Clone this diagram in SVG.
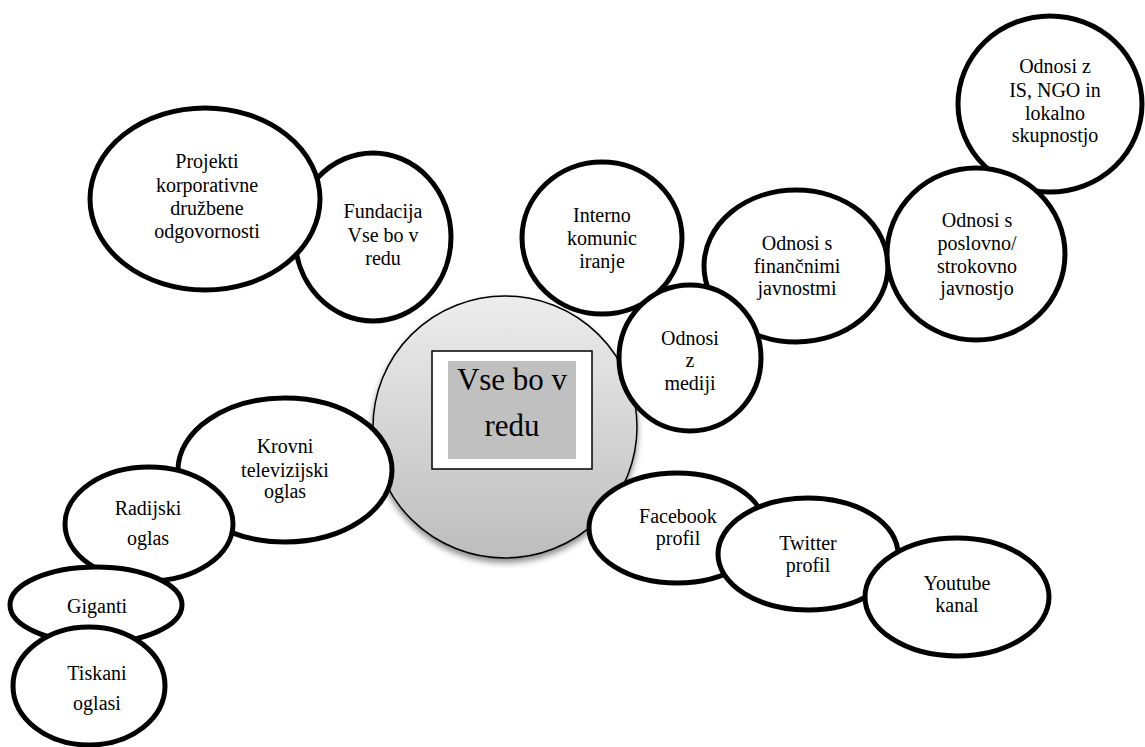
<svg xmlns="http://www.w3.org/2000/svg" width="1145" height="747" viewBox="0 0 1145 747">
  <defs>
    <linearGradient id="hubFill" x1="0" y1="0" x2="0" y2="1">
      <stop offset="0" stop-color="#ededed"/>
      <stop offset="1" stop-color="#bdbdbd"/>
    </linearGradient>
    <filter id="hubShadow" x="-10%" y="-10%" width="120%" height="125%">
      <feDropShadow dx="0" dy="4" stdDeviation="3" flood-color="#000" flood-opacity="0.45"/>
    </filter>
  </defs>
  <style>
    .bubble { fill: #ffffff; stroke: #000000; stroke-width: 5; }
    .lbl { font-family: "Liberation Serif", "Times New Roman", serif; font-size: 20px; fill: #000000; text-anchor: middle; }
    .hubLbl { font-family: "Liberation Serif", "Times New Roman", serif; font-size: 31px; fill: #000000; text-anchor: middle; }
  </style>
  <rect x="0" y="0" width="1145" height="747" fill="#ffffff"/>

  <!-- central hub -->
  <g id="hub">
    <ellipse cx="505" cy="427" rx="132" ry="131" fill="url(#hubFill)" stroke="#000" stroke-width="1.5" filter="url(#hubShadow)"/>
    <rect x="432" y="351" width="160" height="118" fill="#ffffff" stroke="#000" stroke-width="1.5"/>
    <rect x="448" y="361" width="128" height="98" fill="#c0c0c0"/>
    <text class="hubLbl" x="512" y="390">Vse bo v</text>
    <text class="hubLbl" x="512" y="436">redu</text>
  </g>

  <!-- upper-left branch -->
  <g id="fundacija">
    <ellipse class="bubble" cx="373" cy="237" rx="78" ry="84"/>
    <text class="lbl" x="383" y="218">Fundacija</text>
    <text class="lbl" x="383" y="242">Vse bo v</text>
    <text class="lbl" x="383" y="265">redu</text>
  </g>
  <g id="projekti">
    <ellipse class="bubble" cx="205" cy="199" rx="115" ry="91"/>
    <text class="lbl" x="207" y="168">Projekti</text>
    <text class="lbl" x="207" y="192">korporativne</text>
    <text class="lbl" x="207" y="215">družbene</text>
    <text class="lbl" x="207" y="238">odgovornosti</text>
  </g>

  <!-- upper-right branch -->
  <g id="interno">
    <ellipse class="bubble" cx="602" cy="238" rx="80" ry="76"/>
    <text class="lbl" x="602" y="222">Interno</text>
    <text class="lbl" x="602" y="245">komunic</text>
    <text class="lbl" x="602" y="268">iranje</text>
  </g>
  <g id="is-ngo">
    <ellipse class="bubble" cx="1050" cy="104" rx="92" ry="88"/>
    <text class="lbl" x="1055" y="73">Odnosi z</text>
    <text class="lbl" x="1055" y="97">IS, NGO in</text>
    <text class="lbl" x="1055" y="120">lokalno</text>
    <text class="lbl" x="1055" y="142">skupnostjo</text>
  </g>
  <g id="financne">
    <ellipse class="bubble" cx="796" cy="266" rx="92" ry="76"/>
    <text class="lbl" x="797" y="250">Odnosi s</text>
    <text class="lbl" x="797" y="273">finančnimi</text>
    <text class="lbl" x="797" y="295">javnostmi</text>
  </g>
  <g id="poslovna">
    <ellipse class="bubble" cx="976" cy="254" rx="89" ry="86"/>
    <text class="lbl" x="977" y="227">Odnosi s</text>
    <text class="lbl" x="977" y="250">poslovno/</text>
    <text class="lbl" x="977" y="273">strokovno</text>
    <text class="lbl" x="977" y="295">javnostjo</text>
  </g>
  <g id="mediji">
    <ellipse class="bubble" cx="690" cy="358" rx="71" ry="73"/>
    <text class="lbl" x="690" y="345">Odnosi</text>
    <text class="lbl" x="690" y="367">z</text>
    <text class="lbl" x="690" y="390">mediji</text>
  </g>

  <!-- lower-left branch -->
  <g id="krovni">
    <ellipse class="bubble" cx="285" cy="470" rx="107" ry="72"/>
    <text class="lbl" x="285" y="453">Krovni</text>
    <text class="lbl" x="285" y="477">televizijski</text>
    <text class="lbl" x="285" y="498">oglas</text>
  </g>
  <g id="radijski">
    <ellipse class="bubble" cx="149" cy="524" rx="84" ry="57"/>
    <text class="lbl" x="148" y="515">Radijski</text>
    <text class="lbl" x="148" y="545">oglas</text>
  </g>
  <g id="giganti">
    <ellipse class="bubble" cx="96" cy="605" rx="86" ry="38"/>
    <text class="lbl" x="97" y="613">Giganti</text>
  </g>
  <g id="tiskani">
    <ellipse class="bubble" cx="89" cy="686" rx="76" ry="59"/>
    <text class="lbl" x="97" y="680">Tiskani</text>
    <text class="lbl" x="97" y="710">oglasi</text>
  </g>

  <!-- lower-right branch -->
  <g id="facebook">
    <ellipse class="bubble" cx="677" cy="528" rx="88" ry="55"/>
    <text class="lbl" x="678" y="523">Facebook</text>
    <text class="lbl" x="678" y="545">profil</text>
  </g>
  <g id="twitter">
    <ellipse class="bubble" cx="808" cy="554" rx="90" ry="56"/>
    <text class="lbl" x="808" y="550">Twitter</text>
    <text class="lbl" x="808" y="572">profil</text>
  </g>
  <g id="youtube">
    <ellipse class="bubble" cx="957" cy="597" rx="92" ry="59"/>
    <text class="lbl" x="957" y="590">Youtube</text>
    <text class="lbl" x="957" y="612">kanal</text>
  </g>

  <!-- the bubbles touch one another directly; no separate connector lines -->
  <g id="connectors"/>
</svg>
